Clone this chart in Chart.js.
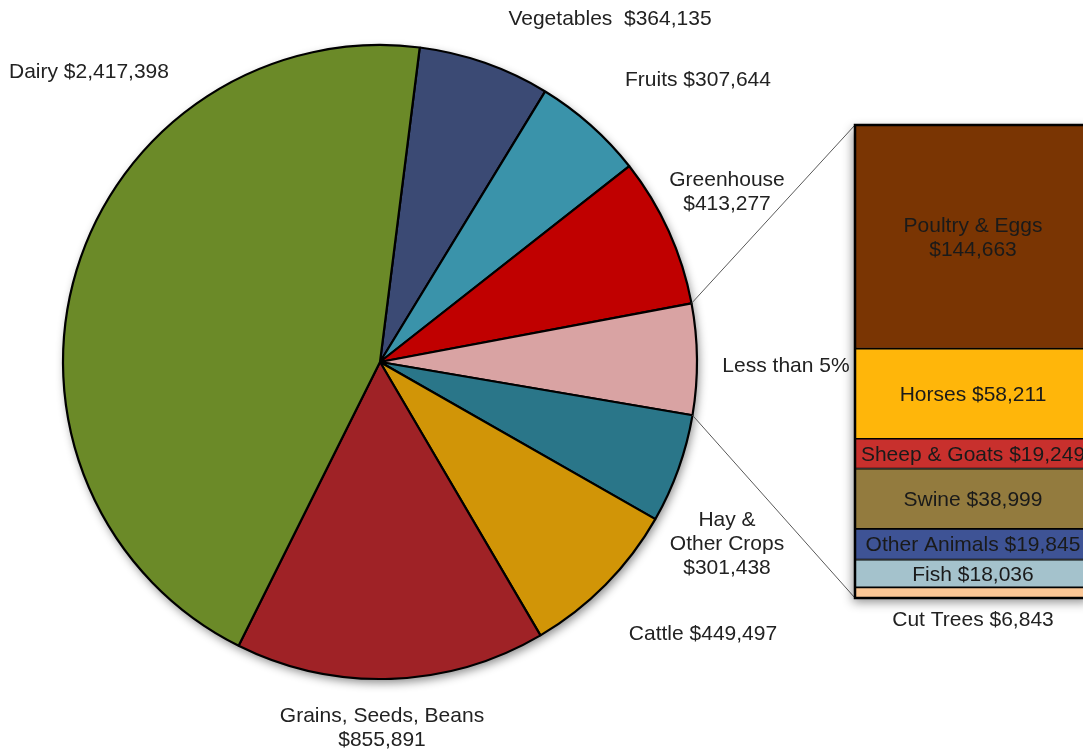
<!DOCTYPE html>
<html><head><meta charset="utf-8">
<script src="https://cdn.jsdelivr.net/npm/chart.js@4.4.0/dist/chart.umd.min.js"></script>
<style>
html,body{margin:0;padding:0;background:#fff;overflow:hidden}
#wrap{position:relative;width:1083px;height:751px;overflow:hidden;background:#fff}
#pie,#bar{position:absolute;left:0;top:0}
</style></head><body>
<div id="wrap"><canvas id="pie" width="1083" height="751"></canvas><canvas id="bar" width="1100" height="751"></canvas></div>
<script>
// ---- data ----
const barLabels = ['Poultry & Eggs','Horses','Sheep & Goats','Swine','Other Animals','Fish','Cut Trees'];
const barValues = [144663,58211,19249,38999,19845,18036,6843];
const barColors = ['#7A3503','#FFB60A','#C8302D','#937B3E','#3E5395','#A4C2CC','#FBC796'];
const barLabelLines = [['Poultry & Eggs','$144,663'],['Horses $58,211'],['Sheep & Goats $19,249'],['Swine $38,999'],['Other Animals $19,845'],['Fish $18,036'],['Cut Trees $6,843']];

const pieLabels = ['Vegetables','Fruits','Greenhouse','Less than 5%','Hay & Other Crops','Cattle','Grains, Seeds, Beans','Dairy'];
const lessThan5 = barValues.reduce((a,b)=>a+b,0);
const pieValues = [364135,307644,413277,lessThan5,301438,449497,855891,2417398];
const pieColors = ['#3B4A74','#3A93AA','#C00000','#D9A3A3','#2A7689','#D19507','#9F2226','#6B8A28'];
const pieLabelLines = [['Vegetables  $364,135'],['Fruits $307,644'],['Greenhouse','$413,277'],['Less than 5%'],['Hay &','Other Crops','$301,438'],['Cattle $449,497'],['Grains, Seeds, Beans','$855,891'],['Dairy $2,417,398']];
// label placement relative to pie centre (px)
const pieLabelOffset = [[230,-344],[318,-283],[347,-171],[406,3],[347,181],[323,271],[2,365],[-291,-291]];

const FONT = '21px "Liberation Sans", Arial, sans-serif';
const TEXT = '#222222';
const LH = 24;
const YSHIFT = 1.5;

function drawLines(ctx, lines, x, y){
  const n = lines.length;
  lines.forEach((t,i)=>{ ctx.fillText(t, x, y + YSHIFT + (i-(n-1)/2)*LH); });
}

const pieShadow = {
  id:'pieShadow',
  beforeDatasetsDraw(chart){
    const el = chart.getDatasetMeta(0).data[0];
    const ctx = chart.ctx; ctx.save();
    ctx.shadowColor='rgba(0,0,0,0.45)'; ctx.shadowBlur=10; ctx.shadowOffsetX=2; ctx.shadowOffsetY=4;
    ctx.fillStyle='#fff'; ctx.beginPath(); ctx.arc(el.x, el.y, el.outerRadius, 0, Math.PI*2); ctx.fill();
    ctx.restore();
  }
};
const pieText = {
  id:'pieText',
  afterDatasetsDraw(chart){
    const el = chart.getDatasetMeta(0).data[0];
    const ctx = chart.ctx; ctx.save();
    ctx.font = FONT; ctx.fillStyle = TEXT; ctx.textAlign='center'; ctx.textBaseline='middle';
    pieLabelLines.forEach((lines,i)=>{
      drawLines(ctx, lines, el.x + pieLabelOffset[i][0], el.y + pieLabelOffset[i][1]);
    });
    ctx.restore();
  }
};

const pieChart = new Chart(document.getElementById('pie'), {
  type:'pie',
  data:{labels:pieLabels, datasets:[{data:pieValues, backgroundColor:pieColors, borderColor:'#000', borderWidth:2.2}]},
  options:{responsive:false, animation:false, rotation:7.2, radius:317,
    layout:{padding:{left:63,right:386,top:45,bottom:72}},
    plugins:{legend:{display:false}, tooltip:{enabled:false}}},
  plugins:[pieShadow, pieText]
});

// stack bottom-up
const order = barLabels.map((_,i)=>i).reverse();

function barBox(chart){
  const metas = chart.data.datasets.map((_,i)=>chart.getDatasetMeta(i).data[0]);
  const bottom = metas[0].base, top = metas[metas.length-1].y;
  const left = metas[0].x - metas[0].width/2, right = metas[0].x + metas[0].width/2;
  return {left,right,top,bottom};
}

const barDeco = {
  id:'barDeco',
  beforeDatasetsDraw(chart){
    const ctx = chart.ctx; const b = barBox(chart);
    // connectors from the "Less than 5%" slice
    const arc = pieChart.getDatasetMeta(0).data[3];
    const p1 = [arc.x + arc.outerRadius*Math.cos(arc.startAngle), arc.y + arc.outerRadius*Math.sin(arc.startAngle)];
    const p2 = [arc.x + arc.outerRadius*Math.cos(arc.endAngle), arc.y + arc.outerRadius*Math.sin(arc.endAngle)];
    ctx.save();
    ctx.strokeStyle='#595959'; ctx.lineWidth=1;
    ctx.beginPath(); ctx.moveTo(p1[0],p1[1]); ctx.lineTo(b.left,b.top); ctx.stroke();
    ctx.beginPath(); ctx.moveTo(p2[0],p2[1]); ctx.lineTo(b.left,b.bottom); ctx.stroke();
    ctx.shadowColor='rgba(0,0,0,0.45)'; ctx.shadowBlur=10; ctx.shadowOffsetX=-2; ctx.shadowOffsetY=4;
    ctx.fillStyle='#fff'; ctx.fillRect(b.left,b.top,b.right-b.left,b.bottom-b.top);
    ctx.restore();
  },
  afterDatasetsDraw(chart){
    const ctx = chart.ctx; const b = barBox(chart);
    ctx.save();
    ctx.strokeStyle='#000'; ctx.lineWidth=2.5;
    ctx.strokeRect(b.left,b.top,b.right-b.left,b.bottom-b.top);
    ctx.font = FONT; ctx.textAlign='center'; ctx.textBaseline='middle';
    chart.data.datasets.forEach((ds,i)=>{
      const el = chart.getDatasetMeta(i).data[0];
      const idx = ds.srcIndex;
      let y = (el.y + el.base)/2;
      if (barLabels[idx]==='Cut Trees') { y = el.base + 21; ctx.fillStyle = TEXT; }
      else ctx.fillStyle = '#1a1a1a';
      drawLines(ctx, barLabelLines[idx], el.x, y);
    });
    ctx.restore();
  }
};

new Chart(document.getElementById('bar'), {
  type:'bar',
  data:{labels:[''], datasets: order.map(i=>({label:barLabels[i], srcIndex:i, data:[barValues[i]], backgroundColor:barColors[i], borderColor:'#000', borderWidth:1.2, borderSkipped:false, barPercentage:1, categoryPercentage:1}))},
  options:{responsive:false, animation:false,
    layout:{padding:{left:855,right:9,top:125,bottom:153}},
    scales:{x:{display:false, stacked:true}, y:{display:false, stacked:true, min:0, max:lessThan5}},
    plugins:{legend:{display:false}, tooltip:{enabled:false}}},
  plugins:[barDeco]
});
</script>
</body></html>
